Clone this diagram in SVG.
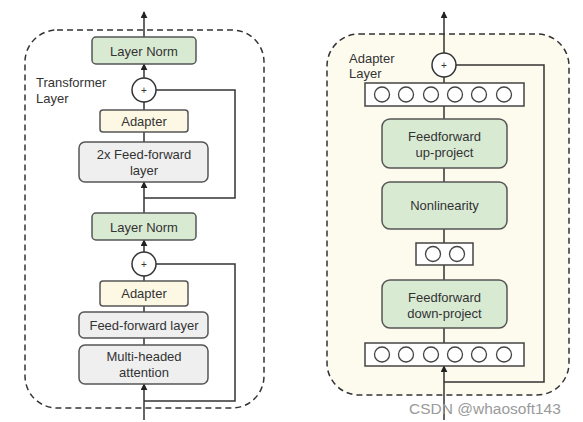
<svg xmlns="http://www.w3.org/2000/svg" width="583" height="422" viewBox="0 0 583 422">
<defs>
<marker id="arr" viewBox="0 0 10 10" refX="9" refY="5" markerWidth="7" markerHeight="7" orient="auto" markerUnits="userSpaceOnUse">
<path d="M0,0 L10,5 L0,10 z" fill="#222"/>
</marker>
<style>
text{font-family:"Liberation Sans",Arial,sans-serif;fill:#333;font-size:13px}
.c{text-anchor:middle}
.box{stroke:#555;stroke-width:1.5}
.green{fill:#d9ead3}
.yellow{fill:#fdf8e4}
.gray{fill:#efefef}
.line{stroke:#333;stroke-width:1.5;fill:none}
.plus{fill:#fff;stroke:#333;stroke-width:1.5}
.bar{fill:#fff;stroke:#444;stroke-width:1.5}
.neu{fill:#fff;stroke:#444;stroke-width:1.3}
.dash{stroke:#333;stroke-width:1.5;stroke-dasharray:6,4}
</style>
</defs>
<rect width="583" height="422" fill="#fff"/>

<!-- Panels -->
<rect id="transformer-frame" x="25" y="30" width="239" height="378" rx="32" fill="none" class="dash"/>
<rect id="adapter-frame" x="327" y="34" width="242" height="361" rx="32" fill="#fdfbee" class="dash"/>

<!-- Connectors -->
<g id="connectors">
<!-- left -->
<line class="line" x1="144" y1="37" x2="144" y2="12" marker-end="url(#arr)"/>
<line class="line" x1="144" y1="78" x2="144" y2="64" marker-end="url(#arr)"/>
<line class="line" x1="144" y1="110" x2="144" y2="102"/>
<line class="line" x1="144" y1="142" x2="144" y2="132"/>
<polyline class="line" points="156,90 235,90 235,198 144,198"/>
<line class="line" x1="144" y1="213" x2="144" y2="182" marker-end="url(#arr)"/>
<line class="line" x1="144" y1="252" x2="144" y2="240" marker-end="url(#arr)"/>
<line class="line" x1="144" y1="281" x2="144" y2="276"/>
<line class="line" x1="144" y1="312" x2="144" y2="306"/>
<line class="line" x1="144" y1="345" x2="144" y2="338"/>
<polyline class="line" points="156,264 235,264 235,401 144,401"/>
<line class="line" x1="144" y1="420" x2="144" y2="384" marker-end="url(#arr)"/>
<!-- right -->
<line class="line" x1="444" y1="53" x2="444" y2="12" marker-end="url(#arr)"/>
<line class="line" x1="444" y1="83" x2="444" y2="77"/>
<line class="line" x1="444" y1="119" x2="444" y2="106"/>
<line class="line" x1="444" y1="182" x2="444" y2="168"/>
<line class="line" x1="444" y1="243" x2="444" y2="229"/>
<line class="line" x1="444" y1="280" x2="444" y2="265"/>
<line class="line" x1="444" y1="343" x2="444" y2="328"/>
<polyline class="line" points="456,65 544,65 544,382 444,382"/>
<line class="line" x1="444" y1="420" x2="444" y2="366" marker-end="url(#arr)"/>
</g>

<!-- Left nodes -->
<text x="36" y="87">Transformer</text>
<text x="36" y="103">Layer</text>
<g id="layernorm-top">
<rect class="box green" x="92" y="37" width="104" height="27" rx="4"/>
<text class="c" x="144" y="55.5">Layer Norm</text>
</g>
<g id="add-top">
<circle class="plus" cx="144" cy="90" r="12"/>
<text class="c" x="144" y="93.5" style="font-size:10px">+</text>
</g>
<g id="adapter-top">
<rect class="box yellow" x="100" y="110" width="88" height="22" rx="3"/>
<text class="c" x="144" y="126">Adapter</text>
</g>
<g id="ff2x">
<rect class="box gray" x="79" y="142" width="129" height="40" rx="6"/>
<text class="c" x="144" y="159">2x Feed-forward</text>
<text class="c" x="144" y="175">layer</text>
</g>
<g id="layernorm-bottom">
<rect class="box green" x="92" y="213" width="104" height="27" rx="4"/>
<text class="c" x="144" y="231.5">Layer Norm</text>
</g>
<g id="add-bottom">
<circle class="plus" cx="144" cy="264" r="12"/>
<text class="c" x="144" y="267.5" style="font-size:10px">+</text>
</g>
<g id="adapter-bottom">
<rect class="box yellow" x="100" y="281" width="88" height="25" rx="3"/>
<text class="c" x="144" y="298">Adapter</text>
</g>
<g id="ff">
<rect class="box gray" x="79" y="312" width="129" height="26" rx="5"/>
<text class="c" x="144" y="330">Feed-forward layer</text>
</g>
<g id="mha">
<rect class="box gray" x="79" y="345" width="129" height="39" rx="6"/>
<text class="c" x="144" y="361">Multi-headed</text>
<text class="c" x="144" y="377">attention</text>
</g>

<!-- Right nodes -->
<text x="349" y="63">Adapter</text>
<text x="349" y="78">Layer</text>
<g id="add-adapter">
<circle class="plus" cx="444" cy="65" r="12"/>
<text class="c" x="444" y="68.5" style="font-size:10px">+</text>
</g>
<g id="bar-top">
<rect class="bar" x="365" y="83" width="159" height="23"/>
<circle class="neu" cx="382" cy="94.5" r="7.5"/>
<circle class="neu" cx="406" cy="94.5" r="7.5"/>
<circle class="neu" cx="431" cy="94.5" r="7.5"/>
<circle class="neu" cx="455" cy="94.5" r="7.5"/>
<circle class="neu" cx="479" cy="94.5" r="7.5"/>
<circle class="neu" cx="504" cy="94.5" r="7.5"/>
</g>
<g id="ff-up">
<rect class="box green" x="382" y="119" width="125" height="49" rx="8"/>
<text class="c" x="444.5" y="141">Feedforward</text>
<text class="c" x="444.5" y="157">up-project</text>
</g>
<g id="nonlinearity">
<rect class="box green" x="382" y="182" width="125" height="47" rx="8"/>
<text class="c" x="444.5" y="210">Nonlinearity</text>
</g>
<g id="bar-mid">
<rect class="bar" x="416" y="243" width="57" height="22"/>
<circle class="neu" cx="433" cy="254" r="7.5"/>
<circle class="neu" cx="457" cy="254" r="7.5"/>
</g>
<g id="ff-down">
<rect class="box green" x="382" y="280" width="125" height="48" rx="8"/>
<text class="c" x="444.5" y="302">Feedforward</text>
<text class="c" x="444.5" y="318">down-project</text>
</g>
<g id="bar-bottom">
<rect class="bar" x="365" y="343" width="159" height="23"/>
<circle class="neu" cx="382" cy="354.5" r="7.5"/>
<circle class="neu" cx="406" cy="354.5" r="7.5"/>
<circle class="neu" cx="431" cy="354.5" r="7.5"/>
<circle class="neu" cx="455" cy="354.5" r="7.5"/>
<circle class="neu" cx="479" cy="354.5" r="7.5"/>
<circle class="neu" cx="504" cy="354.5" r="7.5"/>
</g>

<text x="409" y="414" style="font-size:15.5px;fill:#9a9a9a">CSDN @whaosoft143</text>
</svg>
